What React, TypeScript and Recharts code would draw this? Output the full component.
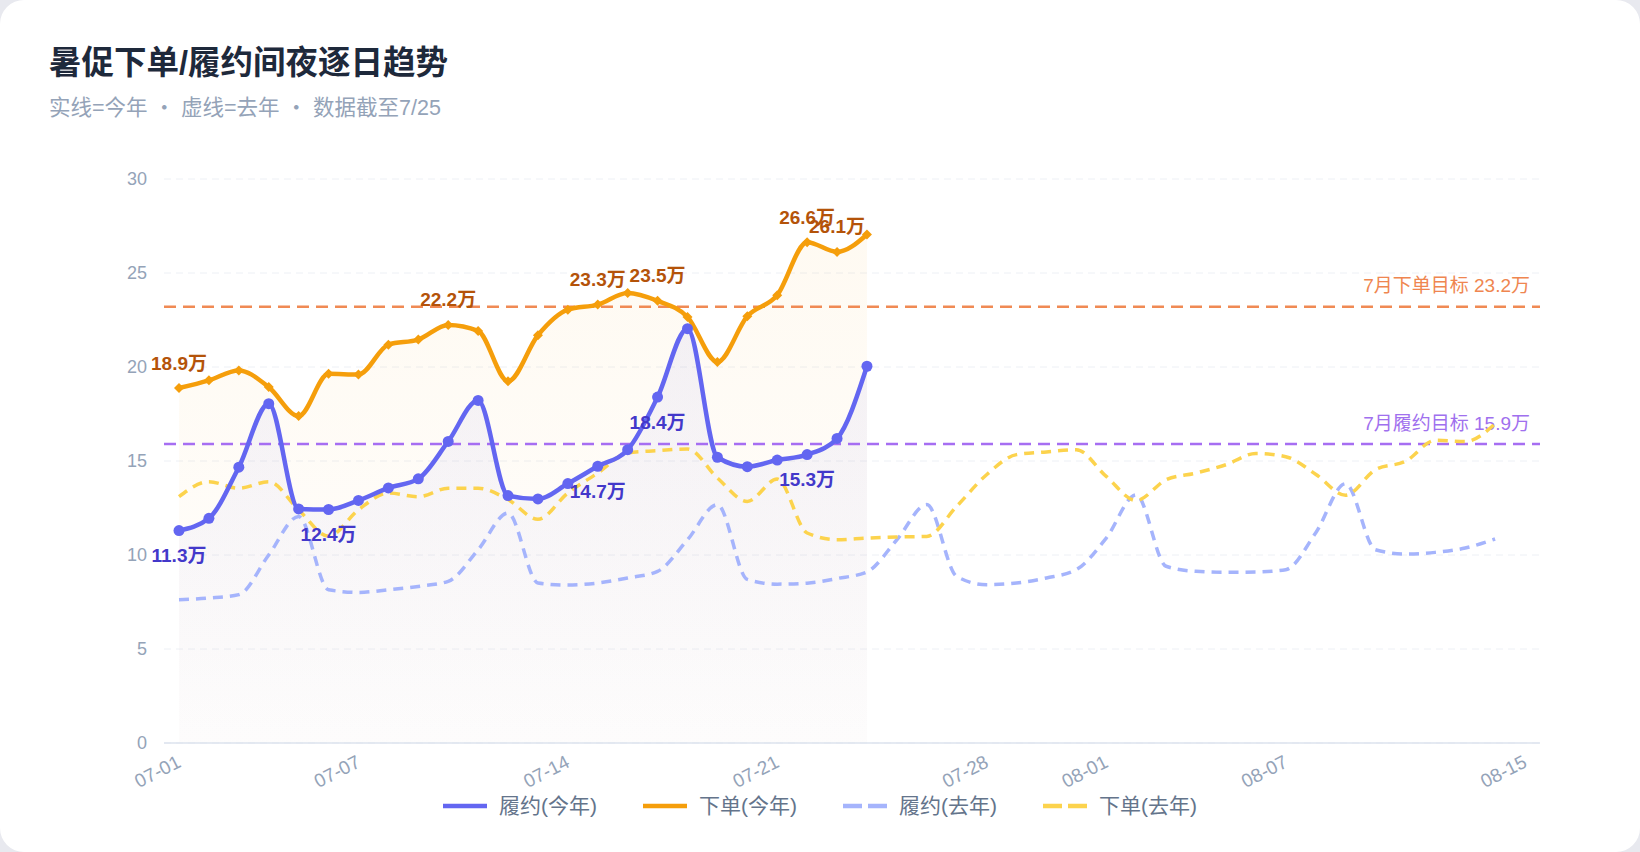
import React from 'react';
import {
  ComposedChart,
  Line,
  Area,
  XAxis,
  YAxis,
  CartesianGrid,
  ReferenceLine,
  Legend,
  LabelList,
} from 'recharts';

// categories: 07-01 .. 08-15
const dates = [
  '07-01', '07-02', '07-03', '07-04', '07-05', '07-06', '07-07', '07-08', '07-09', '07-10',
  '07-11', '07-12', '07-13', '07-14', '07-15', '07-16', '07-17', '07-18', '07-19', '07-20',
  '07-21', '07-22', '07-23', '07-24', '07-25', '07-26', '07-27', '07-28', '07-29', '07-30',
  '07-31', '08-01', '08-02', '08-03', '08-04', '08-05', '08-06', '08-07', '08-08', '08-09',
  '08-10', '08-11', '08-12', '08-13', '08-14', '08-15',
];
const tickDates = ['07-01', '07-07', '07-14', '07-21', '07-28', '08-01', '08-07', '08-15'];
const yTicks = [0, 5, 10, 15, 20, 25, 30];

// 万间夜
const fulfillThisYear = [
  11.3, 11.95, 14.67, 18.05, 12.45, 12.42, 12.9, 13.57, 14.05, 16.04, 18.22, 13.16,
  12.98, 13.8, 14.72, 15.6, 18.4, 22.04, 15.2, 14.7, 15.05, 15.34, 16.2, 20.04,
];
const orderThisYear = [
  18.88, 19.29, 19.82, 18.93, 17.39, 19.64, 19.6, 21.19, 21.46, 22.24, 21.92, 19.24,
  21.69, 23.05, 23.32, 23.94, 23.52, 22.66, 20.27, 22.7, 23.82, 26.64, 26.12, 27.05,
];
const fulfillLastYear = [
  7.62, 7.71, 7.89, 10.0, 12.05, 8.15, 8.01, 8.15, 8.33, 8.6, 10.28, 12.23, 8.51, 8.4, 8.51,
  8.78, 9.13, 10.81, 12.68, 8.7, 8.45, 8.5, 8.75, 9.1, 10.81, 12.68, 8.86, 8.42, 8.51, 8.78,
  9.22, 10.9, 13.2, 9.4, 9.13, 9.08, 9.1, 9.22, 11.17, 13.79, 10.28, 10.05, 10.14, 10.37, 10.85,
];
const orderLastYear = [
  13.1, 13.9, 13.55, 13.9, 12.4, 11.0, 12.4, 13.3, 13.1, 13.55, 13.55, 12.95, 11.9, 13.3, 14.36,
  15.43, 15.55, 15.64, 14.1, 12.85, 14.04, 11.17, 10.81, 10.9, 10.96, 10.99, 12.59, 14.27, 15.34, 15.48,
  15.6, 14.18, 12.9, 14.0, 14.36, 14.8, 15.4, 15.23, 14.3, 13.18, 14.54, 14.98, 16.1, 16.04, 16.98,
];

const fulfillLabelDays = ['07-01', '07-06', '07-15', '07-17', '07-22'];
const orderLabelDays = ['07-01', '07-10', '07-15', '07-17', '07-22', '07-23'];

const orderTarget = 23.2;
const fulfillTarget = 15.9;

const rows = dates.map((date, i) => ({
  date,
  fulfill: fulfillThisYear[i] ?? null,
  order: orderThisYear[i] ?? null,
  fulfillLy: fulfillLastYear[i] ?? null,
  orderLy: orderLastYear[i] ?? null,
  fulfillTag: fulfillLabelDays.includes(date) ? fulfillThisYear[i] : null,
  orderTag: orderLabelDays.includes(date) ? orderThisYear[i] : null,
}));

const legendItems = [
  { name: '履约(今年)', color: '#6366f1', dashed: false },
  { name: '下单(今年)', color: '#f59e0b', dashed: false },
  { name: '履约(去年)', color: '#a5b4fc', dashed: true },
  { name: '下单(去年)', color: '#fcd34d', dashed: true },
];

const FONT = '"Liberation Sans", "Noto Sans CJK SC", sans-serif';

const DateTick = (props: any) => {
  const { x, y, payload } = props;
  return (
    <text
      x={x - 3}
      y={y}
      transform={`rotate(-27 ${x - 3} ${y})`}
      textAnchor="end"
      dominantBaseline="hanging"
      fill="#94a3b8"
      fontSize={19}
    >
      {payload.value}
    </text>
  );
};

const OrderDot = (props: any) => {
  const { cx, cy, index } = props;
  if (cx == null || cy == null) return <g key={`od-${index}`} />;
  const s = 5;
  return (
    <polygon
      key={`od-${index}`}
      points={`${cx},${cy - s} ${cx + s},${cy} ${cx},${cy + s} ${cx - s},${cy}`}
      fill="#f59e0b"
    />
  );
};

const tagRenderer = (color: string, dir: number) => (p: any) => {
  const vb = p.viewBox || {};
  const x = p.x ?? vb.x;
  const y = p.y ?? vb.y;
  if (p.value == null || x == null || y == null) return null;
  return (
    <text
      x={x}
      y={y + dir * 25}
      textAnchor="middle"
      dominantBaseline="central"
      fill={color}
      fontSize={19}
      fontWeight={700}
    >
      {`${Number(p.value).toFixed(1)}万`}
    </text>
  );
};

const TargetLabel = (props: any) => {
  const { viewBox, text, color } = props;
  if (!viewBox) return null;
  return (
    <text
      x={viewBox.x + viewBox.width - 10}
      y={viewBox.y - 21}
      textAnchor="end"
      dominantBaseline="central"
      fill={color}
      fontSize={19}
    >
      {text}
    </text>
  );
};

const LegendBar = () => (
  <div
    style={{
      display: 'flex',
      justifyContent: 'center',
      alignItems: 'center',
      height: 26,
      gap: 46,
      fontFamily: FONT,
    }}
  >
    {legendItems.map((it) => (
      <div key={it.name} style={{ display: 'flex', alignItems: 'center' }}>
        <svg width={44} height={10}>
          <line
            x1={0}
            y1={5}
            x2={44}
            y2={5}
            stroke={it.color}
            strokeWidth={4.5}
            strokeDasharray={it.dashed ? '19 6' : undefined}
          />
        </svg>
        <span style={{ marginLeft: 12, fontSize: 21, color: '#64748b', lineHeight: '26px' }}>
          {it.name}
        </span>
      </div>
    ))}
  </div>
);

export default function App() {
  return (
    <div
      style={{
        position: 'fixed',
        left: 0,
        top: 0,
        width: 1640,
        height: 852,
        background: '#e8e9ef',
        fontFamily: FONT,
      }}
    >
      <div
        style={{
          position: 'absolute',
          left: 0,
          top: 0,
          width: 1640,
          height: 852,
          background: '#ffffff',
          borderRadius: 24,
          overflow: 'hidden',
        }}
      >
        <div style={{ position: 'absolute', left: 0, top: 0 }}>
          <ComposedChart
            width={1640}
            height={852}
            data={rows}
            margin={{ top: 179, right: 100, bottom: 33, left: 104 }}
          >
            <defs>
              <linearGradient id="orderFill" x1="0" y1="0" x2="0" y2="1">
                <stop offset="0%" stopColor="#f59e0b" stopOpacity={0.09} />
                <stop offset="100%" stopColor="#f59e0b" stopOpacity={0.02} />
              </linearGradient>
              <linearGradient id="fulfillFill" x1="0" y1="0" x2="0" y2="1">
                <stop offset="0%" stopColor="#6366f1" stopOpacity={0.12} />
                <stop offset="100%" stopColor="#6366f1" stopOpacity={0.02} />
              </linearGradient>
            </defs>
            <CartesianGrid vertical={false} stroke="#edf0f5" strokeDasharray="7 5" />
            <XAxis
              dataKey="date"
              ticks={tickDates}
              interval={0}
              padding={{ left: 15, right: 15 }}
              axisLine={{ stroke: '#dde3ee', strokeWidth: 1.5 }}
              tickLine={false}
              tickMargin={5}
              height={50}
              tick={<DateTick />}
            />
            <YAxis
              domain={[0, 30]}
              ticks={yTicks}
              axisLine={false}
              tickLine={false}
              width={60}
              tickMargin={11}
              tick={{ fill: '#94a3b8', fontSize: 18 }}
            />
            <Area
              type="monotone"
              dataKey="order"
              stroke="none"
              fill="url(#orderFill)"
              isAnimationActive={false}
              legendType="none"
              activeDot={false}
            />
            <Area
              type="monotone"
              dataKey="fulfill"
              stroke="none"
              fill="url(#fulfillFill)"
              isAnimationActive={false}
              legendType="none"
              activeDot={false}
            />
            <ReferenceLine
              y={orderTarget}
              stroke="#f08a54"
              strokeWidth={2.5}
              strokeDasharray="12 7"
              label={<TargetLabel text={`7月下单目标 ${orderTarget}万`} color="#ef8650" />}
            />
            <ReferenceLine
              y={fulfillTarget}
              stroke="#a66ef2"
              strokeWidth={2.5}
              strokeDasharray="12 7"
              label={<TargetLabel text={`7月履约目标 ${fulfillTarget}万`} color="#a070ee" />}
            />
            <Line
              type="monotone"
              dataKey="fulfillLy"
              name="履约(去年)"
              stroke="#a5b4fc"
              strokeWidth={3.5}
              strokeDasharray="10 7"
              dot={false}
              activeDot={false}
              isAnimationActive={false}
            />
            <Line
              type="monotone"
              dataKey="orderLy"
              name="下单(去年)"
              stroke="#fcd34d"
              strokeWidth={3.5}
              strokeDasharray="10 7"
              dot={false}
              activeDot={false}
              isAnimationActive={false}
            />
            <Line
              type="monotone"
              dataKey="order"
              name="下单(今年)"
              stroke="#f59e0b"
              strokeWidth={4.5}
              dot={<OrderDot />}
              activeDot={false}
              isAnimationActive={false}
            >
              <LabelList dataKey="orderTag" content={tagRenderer('#b45309', -1)} />
            </Line>
            <Line
              type="monotone"
              dataKey="fulfill"
              name="履约(今年)"
              stroke="#6366f1"
              strokeWidth={4.5}
              dot={{ r: 5.5, fill: '#6366f1', stroke: '#6366f1', strokeWidth: 0 }}
              activeDot={false}
              isAnimationActive={false}
            >
              <LabelList dataKey="fulfillTag" content={tagRenderer('#4338ca', 1)} />
            </Line>
            <Legend verticalAlign="bottom" content={<LegendBar />} wrapperStyle={{ left: 0, width: 1640 }} />
          </ComposedChart>
        </div>
        <div
          style={{
            position: 'absolute',
            left: 49,
            top: 47,
            fontSize: 32.5,
            lineHeight: '32px',
            fontWeight: 700,
            color: '#1e293b',
            whiteSpace: 'nowrap',
          }}
        >
          暑促下单/履约间夜逐日趋势
        </div>
        <div
          style={{
            position: 'absolute',
            left: 49,
            top: 97,
            fontSize: 21.5,
            lineHeight: '22px',
            color: '#94a3b8',
            whiteSpace: 'nowrap',
          }}
        >
          实线=今年 ・ 虚线=去年 ・ 数据截至7/25
        </div>
      </div>
    </div>
  );
}
